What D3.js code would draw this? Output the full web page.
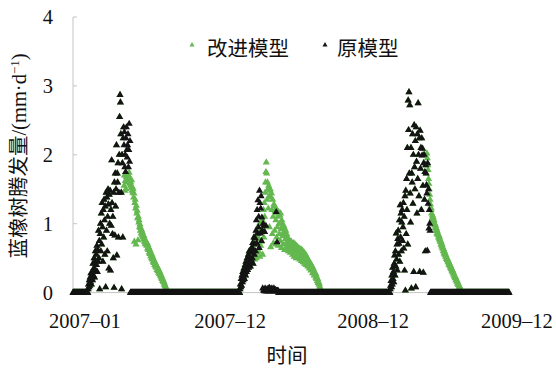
<!DOCTYPE html>
<html>
<head>
<meta charset="utf-8">
<script src="https://cdn.jsdelivr.net/npm/d3@7"></script>
<style>
  html, body { margin: 0; padding: 0; background: #fff; }
  svg { display: block; }
</style>
</head>
<body>
<svg id="chart" width="556" height="369"></svg>
<script>
// Daily blue-oak evapotranspiration (mm/d), day index 0 = 2007-01-01, last = 2009-12-31.
const dayCount = 1095;

// Original model: growing-season runs (first day index, then daily values); other days are 0.
const original2007Start = 38;
const original2007 = [
  0.05, 0.12, 0.08, 0.18, 0.10, 0.22, 0.15, 0.28, 0.12, 0.20,
  0.30, 0.18, 0.42, 0.25, 0.35, 0.50, 0.22, 0.45, 0.60, 0.32,
  0.55, 0.40, 0.68, 0.30, 0.62, 0.45, 0.90, 0.50, 0.75, 0.05,
  0.85, 1.00, 0.60, 1.15, 0.70, 1.30, 0.95, 0.45, 1.20, 0.80,
  1.35, 1.05, 0.55, 1.25, 0.08, 1.45, 0.90, 1.38, 0.60, 1.10,
  1.50, 1.28, 0.35, 1.42, 1.00, 1.48, 0.32, 1.20, 0.97, 1.92,
  1.30, 0.85, 1.10, 0.50, 1.45, 0.07, 1.60, 0.83, 1.73, 1.25,
  1.50, 2.14, 0.54, 1.73, 1.60, 1.88, 0.80, 1.45, 2.00, 2.55,
  2.87, 2.76, 2.30, 1.45, 0.05, 2.00, 1.88, 0.80, 2.24, 2.40,
  2.14, 2.33, 1.82, 2.00, 1.75, 2.24, 2.40, 2.07, 1.96, 2.14,
  2.30, 1.82, 2.07, 2.45, 1.90, 2.20
];

const original2008Start = 419;
const original2008 = [
  0.05, 0.12, 0.08, 0.20, 0.10, 0.25, 0.15, 0.30, 0.18, 0.22,
  0.35, 0.20, 0.28, 0.40, 0.25, 0.45, 0.30, 0.38, 0.50, 0.33,
  0.42, 0.55, 0.36, 0.60, 0.45, 0.50, 0.38, 0.62, 0.48, 0.58,
  0.66, 0.50, 0.72, 0.42, 0.61, 0.80, 0.55, 0.70, 0.79, 0.60,
  0.90, 1.05, 0.72, 1.20, 0.86, 1.34, 0.95, 1.10, 0.65, 1.48,
  1.30, 0.86, 1.22, 1.40, 0.75, 1.09, 0.90, 0.06, 1.00, 0.03,
  0.97, 0.02, 0.88, 0.06, 0.02, 0.97, 0.03, 0.02, 0.05, 0.02,
  0.03, 0.06, 0.02, 0.03, 0.07, 0.02, 0.03, 0.05, 0.02, 0.03,
  0.06, 0.02, 0.04, 0.03, 0.02, 0.06, 0.02, 0.03, 0.02, 0.04,
  0.02, 1.17, 0.03, 0.73, 0.02, 0.03, 0.02
];

const original2009Start = 796;
const original2009 = [
  0.05, 0.10, 0.17, 0.08, 0.25, 0.12, 0.36, 0.20, 0.30, 0.15,
  0.42, 0.54, 0.25, 0.60, 0.38, 0.86, 0.48, 0.70, 0.32, 0.78,
  0.90, 0.55, 0.71, 1.05, 0.45, 1.27, 0.80, 1.15, 0.60, 1.02,
  1.20, 0.75, 0.95, 1.30, 0.64, 1.10, 0.32, 1.40, 0.03, 1.48,
  0.85, 1.65, 1.20, 2.10, 0.70, 2.79, 2.36, 2.91, 1.73, 2.72,
  1.44, 1.02, 2.10, 0.06, 1.73, 1.60, 2.30, 1.29, 2.00, 0.30,
  2.43, 1.82, 1.50, 2.20, 0.08, 2.40, 1.90, 1.15, 2.30, 1.65,
  2.75, 2.00, 1.40, 2.24, 0.30, 2.35, 1.80, 2.10, 1.20, 2.24,
  1.99, 2.09, 1.55, 0.29, 1.88, 2.00, 1.35, 1.75, 0.60, 1.85,
  1.73, 1.56, 1.44, 0.61, 1.88, 1.29, 1.50, 0.93, 1.20, 1.00,
  0.90
];

// Improved model: same as the original model until the run below starts.
const improved2007Start = 128;
const improved2007 = [
  1.55, 1.70, 1.48, 1.62, 1.75, 1.50, 1.68, 1.72, 1.60, 1.65, 1.70,
  1.70, 1.62, 1.74, 1.58, 1.66, 1.55, 1.60, 1.52, 1.63, 1.48,
  1.53, 1.45, 1.50, 1.38, 1.44, 0.74, 1.30, 1.35, 1.22, 0.70,
  1.26, 1.15, 1.19, 1.08, 0.76, 1.10, 1.02, 1.05, 0.95, 0.99,
  0.90, 0.94, 0.86, 0.91, 0.83, 0.88, 0.80, 0.84, 0.77, 0.82,
  0.74, 0.78, 0.71, 0.75, 0.70, 0.73, 0.68, 0.72, 0.64, 0.69,
  0.62, 0.66, 0.58, 0.63, 0.56, 0.60, 0.53, 0.57, 0.50, 0.55,
  0.48, 0.52, 0.45, 0.49, 0.43, 0.46, 0.40, 0.44, 0.38, 0.41,
  0.36, 0.39, 0.33, 0.37, 0.31, 0.34, 0.29, 0.32, 0.27, 0.30,
  0.25, 0.27, 0.22, 0.24, 0.20, 0.21, 0.17, 0.19, 0.15, 0.16,
  0.12, 0.13, 0.10, 0.09, 0.07, 0.06, 0.04, 0.03
];

const improved2008Start = 455;
const improved2008 = [
  0.62, 0.48, 0.75, 0.55, 0.82, 0.50, 0.70, 0.90, 0.58, 0.85,
  0.95, 0.60, 0.78, 1.00, 0.52, 0.88, 0.68, 1.02, 0.74, 0.92,
  1.05, 0.55, 0.95, 1.20, 0.80, 1.30, 1.10, 1.45, 1.60, 1.75,
  1.89, 1.73, 1.35, 1.60, 1.50, 1.22, 1.55, 1.40, 0.95, 1.48,
  1.50, 0.66, 1.38, 1.44, 1.20, 0.85, 1.35, 1.10, 0.72, 1.28,
  1.25, 0.90, 1.18, 0.70, 1.05, 1.22, 0.80, 1.15, 0.95, 1.10,
  0.68, 1.17, 1.00, 0.85, 1.12, 0.75, 1.15, 0.92, 0.65, 1.05,
  1.00, 0.82, 0.70, 0.98, 0.88, 0.95, 0.62, 0.86, 0.78, 0.90,
  0.72, 0.85, 0.66, 0.80, 0.76, 0.60, 0.78, 0.70, 0.64, 0.75,
  0.58, 0.72, 0.66, 0.74, 0.60, 0.70, 0.55, 0.68, 0.62, 0.72,
  0.52, 0.66, 0.70, 0.58, 0.64, 0.50, 0.68, 0.60, 0.55, 0.66,
  0.50, 0.62, 0.58, 0.64, 0.48, 0.60, 0.54, 0.63, 0.46, 0.58,
  0.52, 0.61, 0.44, 0.56, 0.50, 0.58, 0.42, 0.54, 0.48, 0.55,
  0.40, 0.52, 0.46, 0.50, 0.38, 0.48, 0.42, 0.46, 0.35, 0.44,
  0.38, 0.42, 0.32, 0.40, 0.35, 0.38, 0.28, 0.36, 0.30, 0.33,
  0.25, 0.30, 0.27, 0.28, 0.22, 0.26, 0.20, 0.22, 0.17, 0.20,
  0.14, 0.16, 0.12, 0.13, 0.09, 0.07, 0.05, 0.03
];

const improved2009Start = 888;
const improved2009 = [
  2.02, 1.95, 1.85, 1.78, 1.65, 1.58, 1.50, 1.42, 1.35, 1.28,
  1.20, 1.22, 1.15, 1.08, 1.12, 1.05, 1.09, 1.02, 1.05, 0.98,
  1.00, 0.94, 0.97, 0.90, 0.93, 0.86, 0.90, 0.84, 0.86, 0.80,
  0.83, 0.77, 0.80, 0.74, 0.76, 0.70, 0.73, 0.67, 0.70, 0.64,
  0.66, 0.60, 0.63, 0.57, 0.60, 0.55, 0.57, 0.52, 0.54, 0.49,
  0.51, 0.47, 0.48, 0.44, 0.46, 0.41, 0.43, 0.39, 0.40, 0.36,
  0.38, 0.34, 0.35, 0.31, 0.33, 0.29, 0.30, 0.26, 0.27, 0.23,
  0.24, 0.21, 0.22, 0.18, 0.19, 0.16, 0.17, 0.13, 0.14, 0.11,
  0.11, 0.09, 0.08, 0.07, 0.06, 0.05, 0.04, 0.03, 0.02
];

// Axis labelling
const xTickDays = [30, 394, 753, 1114];
const xTickLabels = ["2007–01", "2007–12", "2008–12", "2009–12"];
const yTicks = [0, 1, 2, 3, 4];
const seriesNames = ["改进模型", "原模型"];
const seriesColors = ["#63b84f", "#141414"];

// ---- assemble daily series ----
function placeRuns(base, runs) {
  const out = base.slice();
  runs.forEach(([start, values]) => values.forEach((v, i) => { out[start + i] = v; }));
  return out;
}
const originalDaily = placeRuns(new Array(dayCount).fill(0), [
  [original2007Start, original2007],
  [original2008Start, original2008],
  [original2009Start, original2009]
]);
const improvedDaily = placeRuns(originalDaily, [
  [improved2007Start, improved2007],
  [improved2008Start, improved2008],
  [improved2009Start, improved2009]
]);

// ---- layout ----
const svg = d3.select("#chart");
const serif = "'Liberation Serif', 'Times New Roman', 'Noto Sans CJK SC', serif";
const cjk = "'Liberation Serif', 'Noto Sans CJK SC', serif";
const fontSize = 20.5;

const x = d3.scaleLinear().domain([0, dayCount - 1]).range([73, 509]);
const y = d3.scaleLinear().domain([0, 4]).range([292.6, 17]);

// y axis line and inward ticks
svg.append("line")
  .attr("x1", x.range()[0]).attr("x2", x.range()[0])
  .attr("y1", y(4)).attr("y2", y(0))
  .attr("stroke", "#c4c4c4").attr("stroke-width", 1);
svg.append("g").selectAll("line").data(yTicks).join("line")
  .attr("x1", x.range()[0]).attr("x2", x.range()[0] + 4)
  .attr("y1", d => y(d)).attr("y2", d => y(d))
  .attr("stroke", "#c4c4c4").attr("stroke-width", 1);
svg.append("line")
  .attr("x1", x.range()[0]).attr("x2", x.range()[1] + 3)
  .attr("y1", y(0)).attr("y2", y(0))
  .attr("stroke", "#c4c4c4").attr("stroke-width", 1);

// y tick labels
svg.append("g").selectAll("text").data(yTicks).join("text")
  .attr("x", 53).attr("y", d => y(d) + 7)
  .attr("text-anchor", "end")
  .attr("font-family", serif).attr("font-size", fontSize).attr("fill", "#111")
  .text(d => d);

// x tick labels
svg.append("g").selectAll("text").data(xTickDays).join("text")
  .attr("x", d => x(d)).attr("y", 328)
  .attr("text-anchor", "middle")
  .attr("font-family", serif).attr("font-size", fontSize).attr("fill", "#111")
  .text((d, i) => xTickLabels[i]);

// axis titles
svg.append("text")
  .attr("x", 287).attr("y", 363)
  .attr("text-anchor", "middle")
  .attr("font-family", cjk).attr("font-size", fontSize).attr("fill", "#111")
  .text("时间");

const yTitle = svg.append("text")
  .attr("transform", "translate(26,156) rotate(-90)")
  .attr("text-anchor", "middle")
  .attr("font-family", cjk).attr("font-size", fontSize).attr("fill", "#111");
yTitle.append("tspan").text("蓝橡树腾发量/(mm·d");
yTitle.append("tspan").attr("font-size", 13).attr("dy", -7).text("−1");
yTitle.append("tspan").attr("dy", 7).text(")");

// ---- markers ----
const tri = d3.symbol().type(d3.symbolTriangle).size(22)();
const series = [improvedDaily, originalDaily];
series.forEach((values, k) => {
  svg.append("g").attr("fill", seriesColors[k])
    .selectAll("path").data(values).join("path")
    .attr("d", tri)
    .attr("transform", (v, i) => `translate(${x(i).toFixed(2)},${y(v).toFixed(2)})`);
});

// ---- legend ----
const legendItems = [
  { mx: 192, tx: 207 },
  { mx: 325, tx: 337 }
];
const legendTri = d3.symbol().type(d3.symbolTriangle).size(11)();
const legend = svg.append("g");
legendItems.forEach((it, k) => {
  legend.append("path").attr("d", legendTri)
    .attr("transform", `translate(${it.mx},45)`)
    .attr("fill", seriesColors[k]);
  legend.append("text")
    .attr("x", it.tx).attr("y", 56)
    .attr("font-family", cjk).attr("font-size", fontSize).attr("fill", "#111")
    .text(seriesNames[k]);
});
</script>
</body>
</html>
